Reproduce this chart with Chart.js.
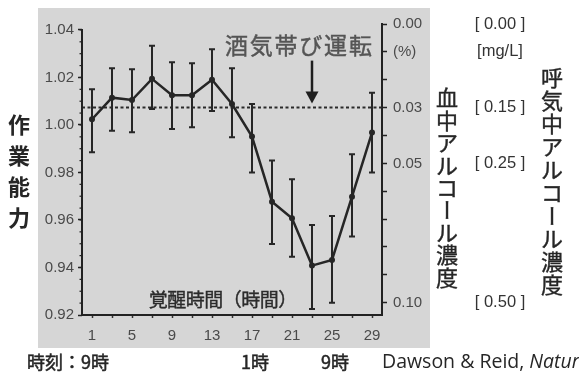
<!DOCTYPE html>
<html>
<head>
<meta charset="utf-8">
<script src="https://cdn.jsdelivr.net/npm/chart.js@4.4.1/dist/chart.umd.min.js"></script>
<style>
  html, body { margin: 0; padding: 0; background: #fff; }
  #wrap { width: 579px; height: 372px; position: relative; }
</style>
</head>
<body>
<div id="wrap"><canvas id="c" width="579" height="372"></canvas></div>
<script>
// Hours awake at each measurement
const hours = [1, 3, 5, 7, 9, 11, 13, 15, 17, 19, 21, 23, 25, 27, 29];
// Mean relative performance and the ends of its error bars
const performance = [1.0024, 1.0115, 1.0105, 1.0194, 1.0125, 1.0125, 1.0190, 1.0088, 0.9951, 0.9677, 0.9607, 0.9408, 0.9432, 0.9698, 0.9968];
const perfHigh    = [1.0150, 1.0239, 1.0235, 1.0333, 1.0264, 1.0260, 1.0319, 1.0239, 1.0088, 0.9850, 0.9771, 0.9579, 0.9617, 0.9877, 1.0136];
const perfLow     = [0.9885, 0.9976, 0.9969, 1.0067, 0.9983, 0.9990, 1.0059, 0.9948, 0.9800, 0.9499, 0.9445, 0.9225, 0.9252, 0.9530, 0.9800];

// Axis ticks
const perfTicks = [0.92, 0.94, 0.96, 0.98, 1.00, 1.02, 1.04];
const hourLabels = [1, 5, 9, 13, 17, 21, 25, 29];
const bacTicks = [0.00, 0.01, 0.02, 0.03, 0.04, 0.05, 0.06, 0.07, 0.08, 0.09, 0.10];
const bacTickText = ['0.00', '(%)', '', '0.03', '', '0.05', '', '', '', '', '0.10'];

// Blood alcohol (%) vs. breath alcohol (mg/L) reference marks
const breathLevels = [0.00, 0.01, 0.03, 0.05, 0.10];
const breathText = ['[ 0.00 ]', '[mg/L]', '[ 0.15 ]', '[ 0.25 ]', '[ 0.50 ]'];

// Drunk-driving threshold (blood alcohol %)
const drunkLimit = 0.03;

// Clock time under the hour axis
const clockHours = [1, 17, 25];
const clockText = ['9時', '1時', '9時'];

const JP = '"Noto Sans CJK JP", "Noto Sans CJK SC", sans-serif';
const NUM = '"Liberation Sans", Arial, sans-serif';
const INK = '#262626';
const TICK_INK = '#4a4a4a';

// fill text with an optional thin outline to get a medium weight
function put(ctx, ch, x, y, weight) {
  ctx.fillText(ch, x, y);
  if (weight) {
    ctx.lineWidth = weight;
    ctx.strokeStyle = ctx.fillStyle;
    ctx.strokeText(ch, x, y);
  }
}

function drawVertical(ctx, text, x, y0, step, weight) {
  [...text].forEach((ch, i) => {
    const y = y0 + i * step;
    ctx.save();
    ctx.translate(x, y);
    if (ch === 'ー') ctx.rotate(Math.PI / 2);
    put(ctx, ch, 0, 0, weight);
    ctx.restore();
  });
}

function drawSpaced(ctx, text, xStart, y, step, weight) {
  [...text].forEach((ch, i) => {
    put(ctx, ch, xStart + step * (i + 0.5), y, weight);
  });
}

const decorations = {
  id: 'decorations',
  beforeDraw(chart) {
    const ctx = chart.ctx;
    ctx.save();
    ctx.fillStyle = '#ffffff';
    ctx.fillRect(0, 0, chart.width, chart.height);
    ctx.fillStyle = '#d6d6d6';
    ctx.fillRect(38, 8, 392, 340);
    ctx.restore();
  },
  beforeDatasetsDraw(chart) {
    // error bars
    const ctx = chart.ctx;
    const xs = chart.scales.x, ys = chart.scales.y;
    ctx.save();
    ctx.strokeStyle = INK;
    ctx.lineWidth = 2;
    hours.forEach((h, i) => {
      const x = xs.getPixelForValue(h);
      const yt = ys.getPixelForValue(perfHigh[i]);
      const yb = ys.getPixelForValue(perfLow[i]);
      ctx.beginPath();
      ctx.moveTo(x, yt); ctx.lineTo(x, yb);
      ctx.moveTo(x - 3, yt); ctx.lineTo(x + 3, yt);
      ctx.moveTo(x - 3, yb); ctx.lineTo(x + 3, yb);
      ctx.stroke();
    });
    ctx.restore();
  },
  afterDraw(chart) {
    const ctx = chart.ctx;
    const xs = chart.scales.x, ys = chart.scales.y, y2 = chart.scales.y2;
    const area = chart.chartArea;
    ctx.save();

    // left axis line (starts at the top tick) and its minor ticks
    ctx.strokeStyle = '#222';
    ctx.lineWidth = 2;
    const leftX = area.left;
    ctx.beginPath();
    ctx.moveTo(leftX, ys.getPixelForValue(perfTicks[perfTicks.length - 1]) - 1);
    ctx.lineTo(leftX, area.bottom + 1);
    ctx.stroke();
    ctx.lineWidth = 1.2;
    for (let v = 0.925; v < 1.04; v += 0.005) {
      const y = ys.getPixelForValue(v);
      ctx.beginPath();
      ctx.moveTo(leftX - 2.5, y); ctx.lineTo(leftX, y);
      ctx.stroke();
    }

    ctx.textAlign = 'center';
    ctx.textBaseline = 'middle';

    // left title
    ctx.fillStyle = INK;
    ctx.font = 'bold 22px ' + JP;
    drawVertical(ctx, '作業能力', 19, 125, 31, 0);

    // drunk-driving note and arrow
    ctx.fillStyle = '#555555';
    ctx.font = '23px ' + JP;
    drawSpaced(ctx, '酒気帯び運転', 224, 45, 24.8, 0.45);
    const ax = xs.getPixelForValue(23);
    const tip = y2.getPixelForValue(drunkLimit) - 4;
    ctx.strokeStyle = '#1e1e1e';
    ctx.fillStyle = '#1e1e1e';
    ctx.lineWidth = 2.5;
    ctx.beginPath();
    ctx.moveTo(ax, tip - 43); ctx.lineTo(ax, tip - 10);
    ctx.stroke();
    ctx.beginPath();
    ctx.moveTo(ax - 6.5, tip - 12); ctx.lineTo(ax + 6.5, tip - 12); ctx.lineTo(ax, tip);
    ctx.closePath();
    ctx.fill();

    // hour-axis title inside the plot
    ctx.fillStyle = '#2c2c2c';
    ctx.font = '19px ' + JP;
    drawSpaced(ctx, '覚醒時間（時間）', 149, 300, 18.5, 0.4);

    // right titles
    ctx.fillStyle = INK;
    ctx.font = '22px ' + JP;
    drawVertical(ctx, '血中アルコール濃度', 447, 98, 22.4, 0.4);
    drawVertical(ctx, '呼気中アルコール濃度', 552, 78, 23, 0.4);

    // breath alcohol equivalents
    ctx.fillStyle = '#333';
    ctx.font = '16.5px ' + NUM;
    breathLevels.forEach((v, i) => {
      ctx.fillText(breathText[i], 500, y2.getPixelForValue(v));
    });

    // clock time row
    ctx.fillStyle = INK;
    ctx.font = '18px ' + JP;
    clockHours.forEach((h, i) => {
      put(ctx, clockText[i], xs.getPixelForValue(h) + 3, 362, 0.5);
    });
    ctx.textAlign = 'right';
    put(ctx, '時刻：', xs.getPixelForValue(clockHours[0]) + 3 - ctx.measureText(clockText[0]).width / 2, 362, 0.5);

    // citation
    ctx.textAlign = 'left';
    ctx.font = '19.5px "Open Sans", sans-serif';
    const part = 'Dawson & Reid, ';
    ctx.fillText(part, 382, 362);
    const w = ctx.measureText(part).width;
    ctx.font = 'italic 19.5px "Open Sans", sans-serif';
    ctx.fillText('Nature', 382 + w, 362);

    ctx.restore();
  }
};

function build() {
  const ctx = document.getElementById('c').getContext('2d');
  new Chart(ctx, {
    type: 'line',
    data: {
      datasets: [
        {
          label: '作業能力',
          data: hours.map((h, i) => ({ x: h, y: performance[i] })),
          yAxisID: 'y',
          borderColor: INK,
          backgroundColor: INK,
          borderWidth: 2.5,
          pointRadius: 3,
          pointBorderWidth: 0,
          pointBackgroundColor: INK,
          tension: 0
        },
        {
          label: '酒気帯び運転',
          data: [{ x: 0, y: drunkLimit }, { x: 30, y: drunkLimit }],
          yAxisID: 'y2',
          borderColor: '#2a2a2a',
          borderWidth: 2,
          borderDash: [3, 2.5],
          pointRadius: 0
        }
      ]
    },
    options: {
      responsive: false,
      animation: false,
      devicePixelRatio: 1,
      layout: { padding: { top: 24, left: 0, right: 0, bottom: 0 } },
      plugins: { legend: { display: false }, tooltip: { enabled: false } },
      scales: {
        x: {
          type: 'linear',
          min: 0,
          max: 30,
          afterBuildTicks: s => { s.ticks = hours.map(v => ({ value: v })); },
          afterFit: s => { s.height = 57; },
          ticks: {
            autoSkip: false,
            maxRotation: 0,
            padding: 9,
            color: TICK_INK,
            font: { family: NUM, size: 15 },
            callback: v => hourLabels.includes(v) ? String(v) : ''
          },
          grid: { drawOnChartArea: false, tickLength: 3, color: '#333', tickWidth: 1.5 },
          border: { display: true, color: '#222', width: 2 }
        },
        y: {
          position: 'left',
          min: 0.92,
          max: 1.0425,
          afterBuildTicks: s => { s.ticks = perfTicks.map(v => ({ value: v })); },
          afterFit: s => { s.width = 82; },
          ticks: {
            padding: 4,
            color: TICK_INK,
            font: { family: NUM, size: 15 },
            callback: v => v.toFixed(2)
          },
          grid: { drawOnChartArea: false, tickLength: 4, color: '#222', tickWidth: 1.5 },
          border: { display: false }
        },
        y2: {
          position: 'right',
          reverse: true,
          min: 0,
          max: 0.1044,
          afterBuildTicks: s => { s.ticks = bacTicks.map(v => ({ value: v })); },
          afterFit: s => { s.width = 197; },
          ticks: {
            padding: 6,
            color: TICK_INK,
            font: { family: NUM, size: 15 },
            callback: (v, i) => bacTickText[i]
          },
          grid: { drawOnChartArea: false, tickLength: 5, color: '#222', tickWidth: 1.5 },
          border: { display: true, color: '#222', width: 2 }
        }
      }
    },
    plugins: [decorations]
  });
}

Promise.all([
  document.fonts.load('bold 22px "Noto Sans CJK JP"', '作業能力'),
  document.fonts.load('22px "Noto Sans CJK JP"', '血中'),
  document.fonts.load('15px "Liberation Sans"', '0.1'),
  document.fonts.load('17px "Open Sans"', 'Dawson'),
  document.fonts.load('italic 17px "Open Sans"', 'Nature')
]).catch(() => {}).then(build);
</script>
</body>
</html>
